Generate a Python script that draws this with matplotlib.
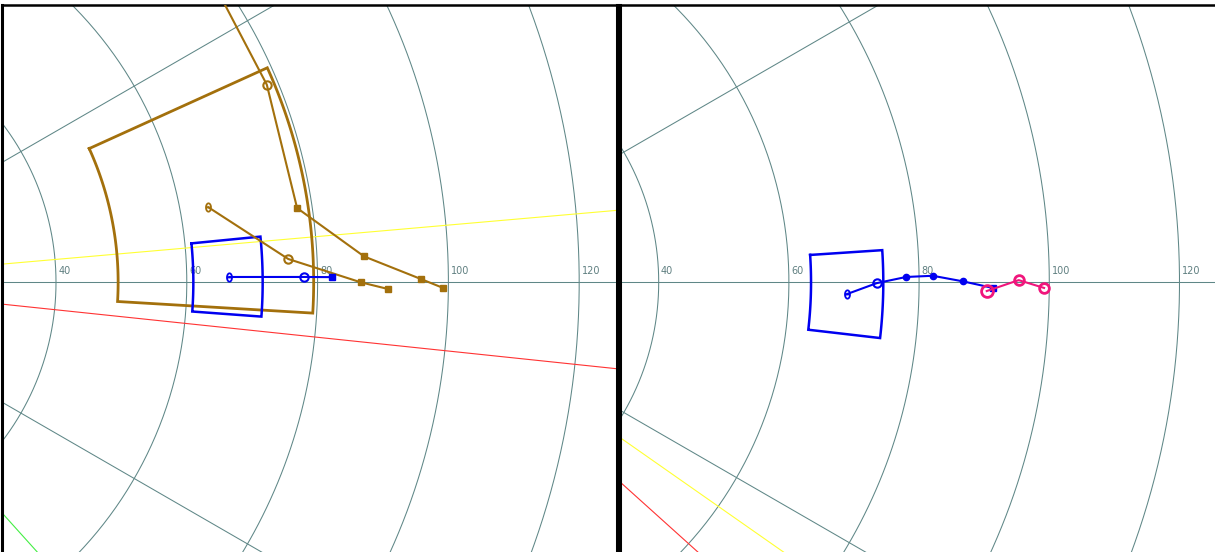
import numpy as np
import matplotlib

matplotlib.use("Agg")

import matplotlib.pyplot as plt  # noqa: E402
from matplotlib.path import Path  # noqa: E402

W, H = 1215, 552

# ---- data (polar: radius, angle in degrees) ----
RINGS = [20, 40, 60, 80, 100, 120, 140, 160]
RING_LABELS = [40, 60, 80, 100, 120]
SPOKES = [-90, -60, -30, 0, 30, 60, 90]

# left panel
L_RAY_ANGLES = [5.0, -6.0, -48.0]
L_RAY_COLORS = ["#ffff33", "#ff3333", "#44ee44"]
L_BROWN_BOX = (49.5, 79.4, -3.4, 24.4)  # r_in, r_out, th_min, th_max
L_BLUE_BOX = (61.0, 71.6, -4.2, 5.6)
L_BROWN_A_R = [79.4, 78.3, 77.7, 87.2, 95.8, 99.2]
L_BROWN_A_T = [38.4, 22.7, 8.4, 2.6, 0.3, -0.5]
L_BROWN_A_M = ["", "o", "s", "s", "s", "s"]
L_BROWN_B_R = [64.3, 75.6, 86.6, 90.8]
L_BROWN_B_T = [10.3, 2.7, 0.0, -0.65]
L_BROWN_B_M = ["t", "o", "s", "s"]
L_BLUE_R = [66.5, 77.9, 82.2]
L_BLUE_T = [0.7, 0.6, 0.55]
L_BLUE_M = ["t", "o", "s"]

# right panel
R_RAY_ANGLES = [-35.0, -42.0]
R_RAY_COLORS = ["#ffff33", "#ff3333"]
R_BLUE_BOX = (63.4, 74.5, -6.6, 3.8)
R_BLUE_R = [68.95, 73.5, 78.0, 82.1, 86.7, 91.4]
R_BLUE_T = [-1.5, -0.1, 0.6, 0.7, 0.1, -0.55]
R_BLUE_M = ["t", "o", ".", ".", ".", "s"]
R_PINK_R = [90.4, 95.3, 99.2]
R_PINK_T = [-0.85, 0.2, -0.5]

BROWN = "#a3700c"
BLUE = "#0000f0"
PINK = "#f0167c"
GRID = "#5f8787"

# small "theta" marker: narrow ellipse with a bar
_t = np.linspace(0, 2 * np.pi, 40)
_verts = list(zip(0.6 * np.cos(_t), np.sin(_t))) + [(-0.6, 0.0), (0.6, 0.0)]
_codes = [Path.MOVETO] + [Path.LINETO] * 39 + [Path.MOVETO, Path.LINETO]
THETA_MARK = Path(_verts, _codes)


def pol2xy(r, th):
    r = np.asarray(r, float)
    th = np.radians(np.asarray(th, float))
    return r * np.cos(th), r * np.sin(th)


def draw_grid(ax):
    a = np.linspace(-180, 180, 721)
    for r in RINGS:
        x, y = pol2xy(np.full_like(a, r), a)
        ax.plot(x, y, color=GRID, lw=0.75, zorder=1)
    for s in SPOKES:
        x, y = pol2xy([0, 300], [s, s])
        ax.plot(x, y, color=GRID, lw=0.75, zorder=1)
    for r in RING_LABELS:
        ax.text(r + 0.35, 0.9, str(r), fontsize=7, color="#5f7f80",
                ha="left", va="bottom", zorder=2)


def draw_rays(ax, angles, colors):
    for a, c in zip(angles, colors):
        x, y = pol2xy([0, 300], [a, a])
        ax.plot(x, y, color=c, lw=0.8, zorder=1.5)


def draw_box(ax, box, color, lw):
    r0, r1, t0, t1 = box
    arc = np.linspace(t0, t1, 60)
    rr = np.concatenate([[r0], np.full(60, r1), np.full(60, r0)])
    tt = np.concatenate([[t1], arc[::-1], arc])
    x, y = pol2xy(rr, tt)
    ax.plot(x, y, color=color, lw=lw, solid_joinstyle="miter", zorder=3)


def draw_track(ax, rs, ts, marks, color, lw=1.5):
    x, y = pol2xy(rs, ts)
    ax.plot(x, y, color=color, lw=lw, zorder=4)
    for xi, yi, m in zip(x, y, marks):
        if m == "o":
            ax.plot(xi, yi, "o", ms=6, mfc="none", mec=color, mew=1.5, zorder=5)
        elif m == "s":
            ax.plot(xi, yi, "s", ms=4, color=color, zorder=5)
        elif m == ".":
            ax.plot(xi, yi, "o", ms=4.5, color=color, zorder=5)
        elif m == "t":
            ax.plot(xi, yi, marker=THETA_MARK, ms=6, mfc="none", mec=color,
                    mew=1.3, ls="none", zorder=5)


def setup(ax, px_left, px_right, cx, cy, scale, px_top=5, px_bottom=H):
    ax.set_xlim((px_left - cx) / scale, (px_right - cx) / scale)
    ax.set_ylim((cy - px_bottom) / scale, (cy - px_top) / scale)
    ax.set_aspect("auto")
    ax.set_xticks([])
    ax.set_yticks([])


fig = plt.figure(figsize=(W / 100, H / 100), dpi=100)
fig.patch.set_facecolor("white")

# left panel
axl = fig.add_axes([1.5 / W, 0, (616.5 - 1.5) / W, (H - 5) / H])
setup(axl, 1.5, 616.5, -205.6, 282.3, 6.54)
draw_grid(axl)
draw_rays(axl, L_RAY_ANGLES, L_RAY_COLORS)
draw_box(axl, L_BROWN_BOX, BROWN, 2.0)
draw_box(axl, L_BLUE_BOX, BLUE, 1.8)
draw_track(axl, L_BROWN_A_R, L_BROWN_A_T, L_BROWN_A_M, BROWN)
draw_track(axl, L_BROWN_B_R, L_BROWN_B_T, L_BROWN_B_M, BROWN)
draw_track(axl, L_BLUE_R, L_BLUE_T, L_BLUE_M, BLUE)
for side, lw in (("left", 2.2), ("top", 1.8), ("right", 2.2)):
    axl.spines[side].set_linewidth(lw)
axl.spines["bottom"].set_visible(False)

# right panel
axr = fig.add_axes([619.5 / W, 0, (W + 2 - 619.5) / W, (H - 5) / H])
setup(axr, 619.5, W + 2, 398.3, 282.3, 6.51)
draw_grid(axr)
draw_rays(axr, R_RAY_ANGLES, R_RAY_COLORS)
draw_box(axr, R_BLUE_BOX, BLUE, 1.8)
draw_track(axr, R_BLUE_R, R_BLUE_T, R_BLUE_M, BLUE)
xp, yp = pol2xy(R_PINK_R, R_PINK_T)
axr.plot(xp, yp, color=PINK, lw=1.5, zorder=6)
axr.plot(xp[:1], yp[:1], "o", ms=8.5, mfc="none", mec=PINK, mew=2, zorder=7)
axr.plot(xp[1:], yp[1:], "o", ms=7, mfc="none", mec=PINK, mew=2, zorder=7)
for side, lw in (("left", 2.2), ("top", 1.8)):
    axr.spines[side].set_linewidth(lw)
axr.spines["right"].set_visible(False)
axr.spines["bottom"].set_visible(False)

fig.savefig("out.png", dpi=100, facecolor="white")
